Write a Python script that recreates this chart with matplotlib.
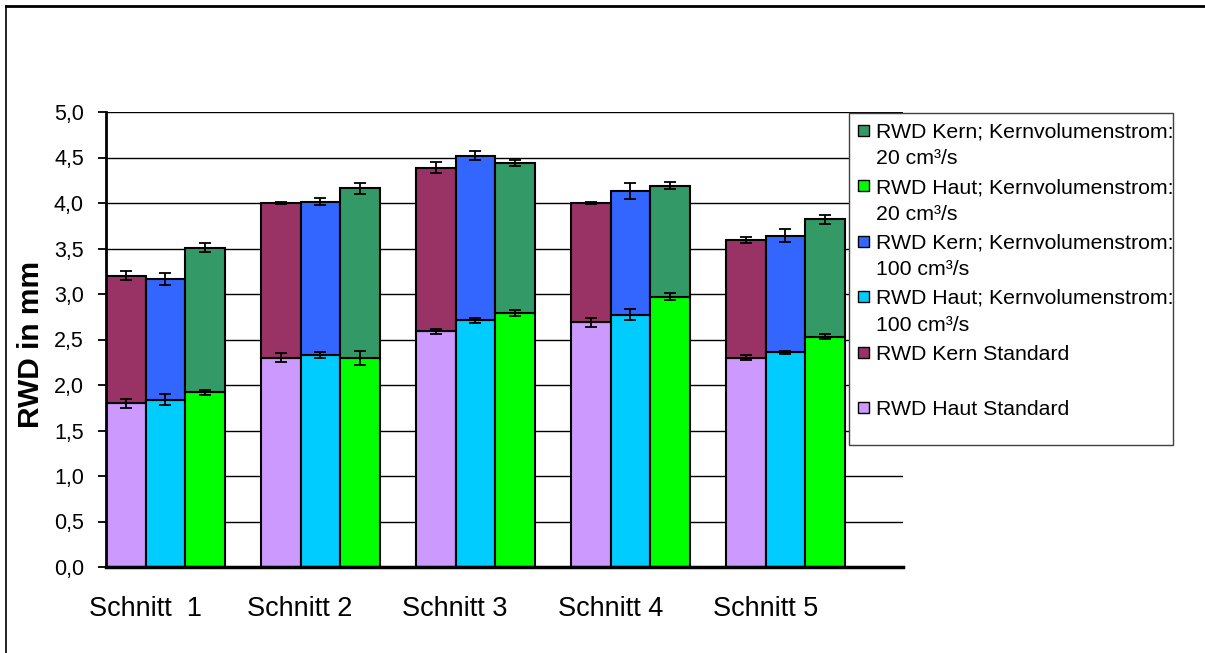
import matplotlib
matplotlib.use("Agg")
import matplotlib.pyplot as plt
from matplotlib.patches import Rectangle
from matplotlib.lines import Line2D
from matplotlib.ticker import FuncFormatter, MultipleLocator
import numpy as np

plt.rcParams['font.family'] = ['Liberation Sans', 'DejaVu Sans']

categories = ["Schnitt  1", "Schnitt 2", "Schnitt 3", "Schnitt 4", "Schnitt 5"]

# Haut values and Kern (total, stacked top) values
haut_std = [1.80, 2.30, 2.59, 2.69, 2.30]
kern_std = [3.20, 4.00, 4.39, 4.00, 3.59]
haut_100 = [1.84, 2.33, 2.71, 2.77, 2.36]
kern_100 = [3.165, 4.015, 4.52, 4.13, 3.64]
haut_20 = [1.92, 2.30, 2.79, 2.97, 2.53]
kern_20 = [3.51, 4.16, 4.44, 4.19, 3.82]

err_haut_std = [0.05, 0.05, 0.03, 0.05, 0.03]
err_kern_std = [0.05, 0.01, 0.06, 0.01, 0.035]
err_haut_100 = [0.06, 0.03, 0.025, 0.06, 0.015]
err_kern_100 = [0.07, 0.04, 0.05, 0.09, 0.07]
err_haut_20 = [0.03, 0.075, 0.03, 0.04, 0.025]
err_kern_20 = [0.05, 0.06, 0.035, 0.04, 0.05]

labels = ["RWD Kern; Kernvolumenstrom:\n20 cm³/s",
          "RWD Haut; Kernvolumenstrom:\n20 cm³/s",
          "RWD Kern; Kernvolumenstrom:\n100 cm³/s",
          "RWD Haut; Kernvolumenstrom:\n100 cm³/s",
          "RWD Kern Standard",
          "RWD Haut Standard"]
c_haut_std, c_kern_std = "#CC99FF", "#993366"
c_haut_100, c_kern_100 = "#00CCFF", "#3366FF"
c_haut_20, c_kern_20 = "#00FF00", "#339966"
legend_colors = [c_kern_20, c_haut_20, c_kern_100, c_haut_100, c_kern_std, c_haut_std]

W, H = 1205, 653
fig = plt.figure(figsize=(W / 100, H / 100), dpi=100)
ax = fig.add_axes([106 / W, 1 - 567 / H, 797 / W, 455 / H])

x = np.arange(len(categories))
bw = 0.255
series = [
    (-bw, haut_std, kern_std, err_haut_std, err_kern_std, c_haut_std, c_kern_std),
    (0.0, haut_100, kern_100, err_haut_100, err_kern_100, c_haut_100, c_kern_100),
    (bw, haut_20, kern_20, err_haut_20, err_kern_20, c_haut_20, c_kern_20),
]
for off, haut, kern, eh, ek, ch, ck in series:
    haut = np.array(haut)
    kern = np.array(kern)
    ax.bar(x + off, haut, width=bw, color=ch, edgecolor='black', linewidth=1.5, zorder=2)
    ax.bar(x + off, kern - haut, bottom=haut, width=bw, color=ck, edgecolor='black', linewidth=1.5, zorder=2)
    ax.errorbar(x + off, haut, yerr=eh, fmt='none', ecolor='black', elinewidth=1.3,
                capsize=4.5, capthick=1.3, zorder=4)
    ax.errorbar(x + off, kern, yerr=ek, fmt='none', ecolor='black', elinewidth=1.3,
                capsize=4.5, capthick=1.3, zorder=4)

ax.set_xlim(-1.5 * bw, -1.5 * bw + 797 / 155)
ax.set_ylim(0, 5.0)
ax.yaxis.set_major_locator(MultipleLocator(0.5))
ax.yaxis.set_major_formatter(FuncFormatter(lambda v, _: f"{v:.1f}".replace('.', ',')))
ax.yaxis.grid(True, color='black', linewidth=1.0)
ax.set_axisbelow(True)
ax.set_xticks(x - 0.13)
ax.set_xticklabels(categories, fontsize=19.5)
ax.tick_params(axis='x', length=0, pad=21)
ax.tick_params(axis='y', direction='out', length=6, width=1.3, labelsize=15.5, pad=10)
for s in ['top', 'right']:
    ax.spines[s].set_visible(False)
ax.spines['left'].set_linewidth(2)
ax.spines['bottom'].set_linewidth(2.5)

ax.set_ylabel("RWD in mm", fontsize=21.5, fontweight='bold')
ax.yaxis.label.set_va('center')
ax.yaxis.set_label_coords((31 - 106) / 797, 0.49)


def fx(px):
    return px / W


def fy(py):
    return 1 - py / H


# legend box
fig.add_artist(Rectangle((fx(849), fy(445)), fx(1173) - fx(849), fy(113) - fy(445),
                         transform=fig.transFigure, facecolor='white',
                         edgecolor='#404040', linewidth=1.0, zorder=5))
entry_y0, entry_dy, line_dy = 130, 55.5, 26.7
for i, (lab, col) in enumerate(zip(labels, legend_colors)):
    yc = entry_y0 + i * entry_dy
    fig.add_artist(Rectangle((fx(858), fy(yc + 5.5)), 11 / W, 11 / H,
                             transform=fig.transFigure, facecolor=col,
                             edgecolor='black', linewidth=1.0, zorder=6))
    for j, line in enumerate(lab.split("\n")):
        fig.text(fx(876), fy(yc + j * line_dy + 7.5), line, fontsize=15.3,
                 ha='left', va='baseline', zorder=7)

# outer frame (top and left edges visible)
fig.add_artist(Line2D([fx(6), 1], [fy(6), fy(6)], color='black', linewidth=2, transform=fig.transFigure))
fig.add_artist(Line2D([fx(6), fx(6)], [0, fy(6)], color='black', linewidth=1.2, transform=fig.transFigure))

fig.savefig("out.png", dpi=100, facecolor='white')
